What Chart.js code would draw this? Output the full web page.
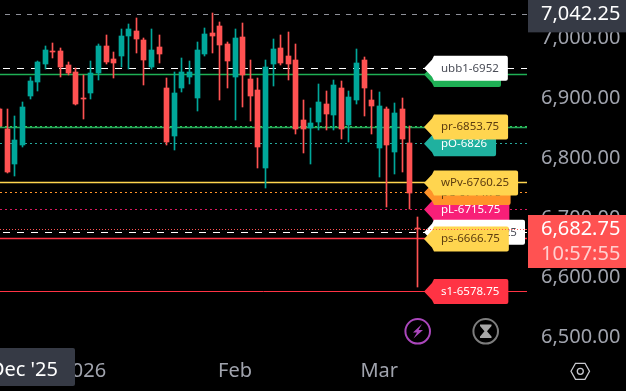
<!DOCTYPE html>
<html lang="en">
<head>
<meta charset="UTF-8">
<title>Candles</title>
<script src="https://cdn.jsdelivr.net/npm/chart.js@4/dist/chart.umd.min.js"></script>
<style>
html, body { margin: 0; padding: 0; background: #000; }
#wrap { position: relative; width: 626px; height: 391px; }
</style>
</head>
<body>
<div id="wrap"><canvas id="myChart"></canvas></div>
<script>
// candle values
const opens = [6884,6850.5,6792,6823.75,6905.75,6929,6959.25,6981,6981,6957.5,6945.75,6902.5,6910.75,6944,6989.25,6967.5,6972.5,7006,7014.5,6999.25,6954.25,6987.5,6919,6838.75,6919,6937.5,6902.5,6975.75,7011,7022.75,6992.5,6937.5,7004.25,6934,6915.75,6785.25,6959.25,6986,6972.5,6965.75,6865.5,6852,6862.25,6892.25,6873.75,6919,6857.25,6899,6965.75,6899,6818.75,6884,6812,6884,6827,6685];
const highs = [6885.5,6884,6872.25,6895.5,6937.5,6964.25,6989.25,6994.25,6986,6962.5,6952.5,6940.75,6964.25,6992.5,7007.75,6979.25,7017.75,7026,7036,7002.75,7017.75,7007.75,6935.75,6945.75,6969.25,6964.25,6996,7019.5,7044.5,7029.5,6996,7017.75,7027.75,6965.75,6935.75,6965.75,7001,7007.75,7012.75,6992.5,6899,6885.5,6925.75,6914,6932.5,6930.75,6914,6984.25,6970.75,6915.75,6912.5,6887.25,6894,6902.5,6855.5,6703.25];
const lows = [6853.75,6777,6772,6820.5,6900.75,6914,6950.75,6969.25,6937.5,6940.75,6890.5,6867.25,6900.75,6932.5,6959.25,6935.75,6954.25,6950.75,6977.5,6924,6950.75,6960.75,6823.75,6815.5,6912.5,6925.75,6880.5,6972.5,6977.5,6899,6919,6865.5,6887.25,6863.75,6785.25,6751.75,6922.5,6957.5,6932.5,6842,6810.5,6792,6848.75,6848.75,6848.75,6833.75,6828.75,6892.25,6872.25,6842,6770.25,6720,6775.25,6778.5,6716.75,6586.25];
const closes = [6855.5,6778.5,6832,6887.25,6930.75,6962.5,6982.5,6979.25,6954.25,6944,6892.25,6900.75,6944,6989.25,6962.5,6960.75,7006,7017.75,7001,6965.75,6982.5,6975.75,6828.75,6910.75,6945.75,6945.75,6982.5,7009.25,7006,6991,6964.25,7002.75,6940.75,6905.75,6820.5,6954.25,6984.25,6960.75,6959.25,6850.5,6850.5,6860.5,6895.5,6875.5,6924,6850.5,6904,6960.75,6919,6889,6889,6823.75,6877.25,6833.75,6743.5,6682.75];

const yTicks = [7000, 6900, 6800, 6700, 6600, 6500];
const xTickIndex = [11, 31, 50];
const xTickLabels = ['2026', 'Feb', 'Mar'];

const levelValues = [7042.25, 6952, 6941.75, 6854.5, 6852.5, 6826, 6760.25, 6744.5, 6715.75, 6682.75, 6677.75, 6666.75, 6578.75];
const lastPrice = 6682.75;
const topPrice = 7042.25;
const countdown = '10:57:55';

const UP = '#00a79a', DOWN = '#ff5252';
const FONT = '"Noto Sans"';

// one style per level, same order as levelValues
const levelStyles = [
	{ color: '#8e9099', width: 1, dash: [5, 6], off: 6 },
	{ color: '#ffffff', width: 1, dash: [7, 7], off: 11 },
	{ color: '#1fb055', width: 1.5 },
	{ color: '#2ed158', width: 1, dash: [2, 3] },
	{ color: '#26a65b', width: 1.5 },
	{ color: '#26a69a', width: 1, dash: [2, 3] },
	{ color: '#ffd54f', width: 1.5 },
	{ color: '#ff9329', width: 1, dash: [2, 3] },
	{ color: '#d81b60', width: 1, dash: [2, 3] },
	{ color: '#ff5252', width: 1, dash: [1, 2] },
	{ color: '#ffffff', width: 1, dash: [7, 7], off: 11 },
	{ color: '#ff3344', width: 1.5 },
	{ color: '#ff3344', width: 1 }
];

// price tags, drawn in this order so the later ones cover the earlier ones
const tagNames = ['', 'ubb1-6952', 'pO-6826', 'pr-6853.75', 'pL-6715.75', 'pC-6744.75', 'wPv-6760.25', 'lbb1-6677.25', 'ps-6666.75', 's1-6578.75'];
const tagValues = [6941.75, 6952, 6826, 6853.75, 6715.75, 6744.5, 6760.25, 6677.75, 6666.75, 6578.75];
const tagStyles = [
	{ bg: '#1fb055', fg: '#ffffff', w: 69 },
	{ bg: '#ffffff', fg: '#4a4d57' },
	{ bg: '#1fb19f', fg: '#ffffff' },
	{ bg: '#ffd54f', fg: '#5c3c10' },
	{ bg: '#f81f78', fg: '#ffffff' },
	{ bg: '#ff9329', fg: '#5c3c10' },
	{ bg: '#ffd54f', fg: '#5c3c10' },
	{ bg: '#ffffff', fg: '#4a4d57', w: 93, pad: 15 },
	{ bg: '#ffd54f', fg: '#5c3c10' },
	{ bg: '#ff3344', fg: '#ffffff' }
];

const fmt = v => v.toLocaleString('en-US', { minimumFractionDigits: 2, maximumFractionDigits: 2 });

const candleColors = opens.map((o, i) => closes[i] >= o ? UP : DOWN);

const levelSets = levelValues.map((v, i) => ({
	type: 'line',
	data: [{ x: 0.034, y: v }, { x: 69.46, y: v }],
	borderColor: levelStyles[i].color,
	borderWidth: levelStyles[i].width,
	borderDash: levelStyles[i].dash || [],
	borderDashOffset: levelStyles[i].off || 0,
	pointRadius: 0,
	order: 3
}));

// snap candles and levels to whole pixels, the way the picture has them
const snapPlugin = {
	id: 'snap',
	beforeDatasetsDraw(chart) {
		chart.getSortedVisibleDatasetMetas().forEach(meta => {
			meta.data.forEach(el => {
				if (meta.type === 'bar') {
					el.x = Math.floor(el.x) + 0.5;
					el.y = Math.round(el.y);
					el.base = Math.round(el.base);
				} else {
					el.y = Math.floor(el.y) + 0.5;
				}
			});
		});
	}
};

function drawTag(ctx, text, y, st) {
	const top = y - 12.5, bottom = y + 12.5, left = 432;
	ctx.font = '11.5px ' + FONT;
	const right = left + (st.w || ctx.measureText(text).width + 18);
	ctx.beginPath();
	ctx.moveTo(left + 2, top);
	ctx.lineTo(right - 2, top);
	ctx.quadraticCurveTo(right, top, right, top + 2);
	ctx.lineTo(right, bottom - 2);
	ctx.quadraticCurveTo(right, bottom, right - 2, bottom);
	ctx.lineTo(left + 2, bottom);
	ctx.lineTo(left, bottom - 4);
	ctx.lineTo(424, y);
	ctx.lineTo(left, top + 4);
	ctx.closePath();
	ctx.fillStyle = st.bg;
	ctx.fill();
	if (text) {
		ctx.fillStyle = st.fg;
		ctx.textAlign = 'left';
		ctx.textBaseline = 'middle';
		ctx.fillText(text, left + (st.pad || 9), y);
	}
}

// tags, price boxes, crosshair date and the small icons
const overlayPlugin = {
	id: 'overlay',
	afterDraw(chart) {
		const ctx = chart.ctx, yS = chart.scales.y;
		ctx.save();

		tagNames.forEach((name, i) => drawTag(ctx, name, yS.getPixelForValue(tagValues[i]), tagStyles[i]));

		// last price dots run over the tags
		const lastY = Math.floor(yS.getPixelForValue(lastPrice)) + 0.5;
		ctx.beginPath();
		ctx.setLineDash([1, 2]);
		ctx.moveTo(424, lastY);
		ctx.lineTo(527, lastY);
		ctx.strokeStyle = '#ff5252';
		ctx.lineWidth = 1;
		ctx.stroke();
		ctx.setLineDash([]);

		// price boxes on the axis
		ctx.font = '20px ' + FONT;
		ctx.textAlign = 'left';
		ctx.textBaseline = 'middle';
		const topY = yS.getPixelForValue(topPrice);
		ctx.fillStyle = '#363a45';
		ctx.fillRect(528, 0, 98, topY + 18);
		ctx.fillStyle = '#ffffff';
		ctx.fillText(fmt(topPrice), 541, topY - 0.5);

		ctx.fillStyle = '#ff5252';
		ctx.fillRect(528, lastY - 14.5, 98, 53);
		ctx.fillStyle = '#ffffff';
		ctx.fillText(fmt(lastPrice), 541, lastY - 0.5);
		ctx.fillStyle = 'rgba(255,255,255,0.72)';
		ctx.fillText(countdown, 541, lastY + 25);

		// date box on the time axis
		ctx.fillStyle = '#363a45';
		ctx.beginPath();
		ctx.roundRect(-6, 348, 81, 38, 2);
		ctx.fill();
		ctx.fillStyle = '#ffffff';
		ctx.textAlign = 'right';
		ctx.fillText("Dec '25", 58, 370);

		// lightning icon
		ctx.lineWidth = 2;
		ctx.strokeStyle = '#ab47bc';
		ctx.beginPath();
		ctx.arc(417.7, 331.3, 12.3, 0, Math.PI * 2);
		ctx.stroke();
		ctx.fillStyle = '#ab47bc';
		ctx.beginPath();
		ctx.moveTo(422, 324); ctx.lineTo(413, 332.5); ctx.lineTo(417, 332.5);
		ctx.lineTo(413.5, 338.5); ctx.lineTo(423, 330); ctx.lineTo(418.5, 330);
		ctx.closePath();
		ctx.fill();

		// hourglass icon
		ctx.strokeStyle = '#7d7d7d';
		ctx.beginPath();
		ctx.arc(485.7, 331.3, 12.3, 0, Math.PI * 2);
		ctx.stroke();
		ctx.fillStyle = '#a8a8a8';
		ctx.beginPath();
		ctx.moveTo(480, 324.5); ctx.lineTo(491.5, 324.5); ctx.lineTo(491.5, 326);
		ctx.lineTo(487, 331.3); ctx.lineTo(491.5, 336.5); ctx.lineTo(491.5, 338);
		ctx.lineTo(480, 338); ctx.lineTo(480, 336.5); ctx.lineTo(484.5, 331.3);
		ctx.lineTo(480, 326);
		ctx.closePath();
		ctx.fill();

		// settings hexagon
		ctx.lineWidth = 1.3;
		ctx.strokeStyle = '#c9cad0';
		ctx.beginPath();
		ctx.moveTo(571, 371.3); ctx.lineTo(575.5, 363.3); ctx.lineTo(585, 363.3);
		ctx.lineTo(589.5, 371.3); ctx.lineTo(585, 379.3); ctx.lineTo(575.5, 379.3);
		ctx.closePath();
		ctx.stroke();
		ctx.beginPath();
		ctx.arc(580.3, 371.3, 3, 0, Math.PI * 2);
		ctx.stroke();

		ctx.restore();
	}
};

// the axes must not ask for extra room around the plot
function noPad(s) {
	s.paddingLeft = s.paddingRight = s.paddingTop = s.paddingBottom = 0;
}

const ctx = document.getElementById('myChart').getContext('2d');
const chart = new Chart(ctx, {
	type: 'bar',
	data: {
		datasets: [
			{
				// wicks
				data: opens.map((o, i) => ({ x: i, y: [lows[i], highs[i]] })),
				backgroundColor: candleColors,
				barThickness: 1,
				grouped: false,
				order: 2
			},
			{
				// bodies
				data: opens.map((o, i) => ({ x: i, y: [o, closes[i]] })),
				backgroundColor: candleColors,
				barThickness: 5,
				grouped: false,
				order: 1
			}
		].concat(levelSets)
	},
	plugins: [snapPlugin, overlayPlugin],
	options: {
		responsive: true,
		maintainAspectRatio: false,
		animation: false,
		events: [],
		layout: { padding: 0 },
		plugins: { legend: { display: false }, tooltip: { enabled: false } },
		scales: {
			x: {
				type: 'linear',
				offset: false,
				min: 0.034,
				max: 69.46,
				grid: { display: false, drawTicks: false },
				border: { display: false },
				afterBuildTicks: s => { s.ticks = xTickIndex.map(v => ({ value: v })); },
				afterFit: s => { s.height = 43; noPad(s); },
				ticks: {
					autoSkip: false,
					maxRotation: 0,
					padding: 11,
					color: '#a0a3ad',
					font: { family: FONT, size: 20 },
					callback: v => xTickLabels[xTickIndex.indexOf(v)]
				}
			},
			y: {
				position: 'right',
				min: 6484.25,
				max: 7066.25,
				grid: { display: false, drawTicks: false },
				border: { display: false },
				afterBuildTicks: s => { s.ticks = yTicks.map(v => ({ value: v })); },
				afterFit: s => { s.width = 99; noPad(s); },
				ticks: {
					autoSkip: false,
					padding: 14,
					labelOffset: -1,
					color: '#a0a3ad',
					font: { family: FONT, size: 20 },
					callback: v => fmt(v)
				}
			}
		}
	}
});
</script>
</body>
</html>
